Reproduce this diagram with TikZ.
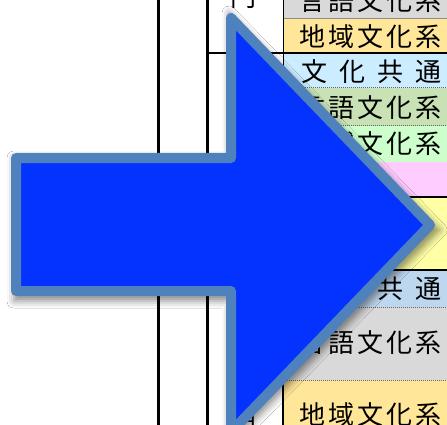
\documentclass[tikz,border=0pt]{standalone}
\usepackage{fontspec}
\newfontfamily\cjk{Noto Sans CJK JP}
\usetikzlibrary{shadows.blur}
\definecolor{arrowfill}{HTML}{0433FF}
\definecolor{arrowedge}{HTML}{4F81BD}
\definecolor{cgray}{HTML}{D9D9D9}
\definecolor{corange}{HTML}{FFE699}
\definecolor{cblue}{HTML}{CCECFF}
\definecolor{cgreen}{HTML}{C9E2B5}
\definecolor{clgreen}{HTML}{CCFFCC}
\definecolor{cpink}{HTML}{FFCCFF}
\definecolor{cyellow}{HTML}{FFFFA6}
\definecolor{cbluetwo}{HTML}{BDD7EE}
\newcommand{\jpfive}[5]{#1\kern3pt#2\kern3pt#3\kern3pt#4\kern3pt#5}
\newcommand{\jpfour}[4]{#1\kern12pt#2\kern12pt#3\kern12pt#4}
\begin{document}
\begin{tikzpicture}[x=1pt,y=-1pt,
  celltext/.style={font=\cjk\fontsize{26}{26}\selectfont, inner sep=0pt, anchor=west},
  vrule/.style={line width=3pt, black},
  hrule/.style={line width=2.5pt, black},
  dotrule/.style={black!60, densely dotted, line width=1pt}]
\useasboundingbox (0,0) rectangle (447,425);
\fill[white] (0,0) rectangle (447,425);
% cells
\fill[cgray] (283,-5) rectangle (447,18);
\fill[corange] (283,18) rectangle (447,53);
\fill[cblue] (283,53) rectangle (447,88);
\fill[cgreen] (283,88) rectangle (447,126);
\fill[clgreen] (283,126) rectangle (447,162);
\fill[cpink] (283,162) rectangle (447,197);
\fill[cyellow] (283,197) rectangle (447,270);
\fill[cbluetwo] (283,270) rectangle (447,307);
\fill[cgray] (283,307) rectangle (447,380);
\fill[corange] (283,380) rectangle (447,430);
% rules
\draw[black!45, line width=0.8pt] (283,18) -- (447,18);
\draw[hrule] (207,53) -- (447,53);
\draw[dotrule] (283,88) -- (447,88);
\draw[dotrule] (283,126) -- (447,126);
\draw[hrule] (283,197) -- (447,197);
\draw[hrule] (283,270) -- (447,270);
\draw[dotrule] (283,307) -- (447,307);
\draw[dotrule] (283,380) -- (447,380);
\draw[vrule] (158,-5) -- (158,430);
\draw[vrule] (207,-5) -- (207,430);
\draw[black, line width=1pt] (283,-5) -- (283,380);
\draw[black, line width=2.5pt] (283,380) -- (283,430);
% texts
\node[celltext] (t1) at (299,1) {\jpfive 言語文化系};
\node[celltext] (t2) at (299,37) {\jpfive 地域文化系};
\node[celltext] (t3) at (301,72) {\jpfour 文化共通};
\node[celltext] (t4) at (299,108) {\jpfive 言語文化系};
\node[celltext] (t5) at (299,144) {\jpfive 地域文化系};
\node[celltext] (t8) at (301,289) {\jpfour 文化共通};
\node[celltext] (t9) at (299,343) {\jpfive 言語文化系};
\node[celltext] (t10) at (299,415) {\jpfive 地域文化系};
\node[font=\cjk\fontsize{26}{26}\selectfont, inner sep=0pt] (f1) at (243,-3) {門};
\node[font=\cjk\fontsize{26}{26}\selectfont, inner sep=0pt] (f2) at (243,424) {門};
% arrow
\path[blur shadow={shadow xshift=3pt, shadow yshift=-5pt, shadow blur radius=7pt, shadow opacity=45}]
  (11,153) -- (226,153) -- (226,8) -- (437,225) -- (226,442) -- (226,296) -- (11,296) -- cycle;
\draw[arrowedge, fill=arrowfill, line width=10pt, line join=round]
  (16,158) -- (231,158) -- (231,18) -- (430,225) -- (231,432) -- (231,291) -- (16,291) -- cycle;
\end{tikzpicture}
\end{document}
